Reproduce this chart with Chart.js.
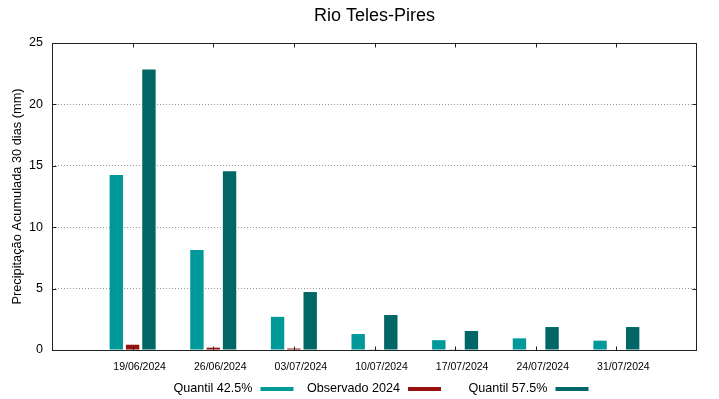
<!DOCTYPE html>
<html>
<head>
<meta charset="utf-8">
<script src="https://cdn.jsdelivr.net/npm/chart.js@4"></script>
<style>
html,body{margin:0;padding:0;background:#fff;}
#wrap{width:719px;height:399px;position:relative;}
</style>
</head>
<body>
<div id="wrap"><canvas id="c" width="719" height="399"></canvas></div>
<script>
const chartTitle = 'Rio Teles-Pires';
const yAxisTitle = 'Precipitação Acumulada 30 dias (mm)';
const categories = ['19/06/2024','26/06/2024','03/07/2024','10/07/2024','17/07/2024','24/07/2024','31/07/2024'];
const quantil425 = [14.25, 8.15, 2.7, 1.3, 0.8, 0.95, 0.76];
const observado2024 = [0.43, 0.19, 0.12, 0.05, 0.05, 0, 0];
const quantil575 = [22.85, 14.55, 4.72, 2.85, 1.55, 1.87, 1.87];
const seriesLabels = ['Quantil 42.5%', 'Observado 2024', 'Quantil 57.5%'];
const yTicks = [0, 5, 10, 15, 20, 25];

const FONT = "'Liberation Sans', Arial, sans-serif";
const pad = a => [null, ...a, null];
const labels = ['', ...categories, ''];

const frame = {
  id: 'frame',
  afterDatasetsDraw(chart) {
    const ctx = chart.ctx, a = chart.chartArea;
    const xs = chart.scales.x, ys = chart.scales.y;
    ctx.save();
    ctx.strokeStyle = '#222';
    ctx.lineWidth = 1;
    ctx.beginPath();
    const L = Math.round(a.left) + 0.5, R = Math.round(a.right) - 0.5;
    const T = Math.round(a.top) + 0.5, B = Math.round(a.bottom) + 0.5;
    xs.ticks.forEach((t, i) => {
      if (!labels[i]) return;
      const x = Math.round(xs.getPixelForTick(i)) + 0.5;
      ctx.moveTo(x, B); ctx.lineTo(x, B - 4);
      ctx.moveTo(x, T); ctx.lineTo(x, T + 4);
    });
    ys.ticks.forEach((t) => {
      const y = Math.round(ys.getPixelForValue(t.value)) + 0.5;
      ctx.moveTo(L, y); ctx.lineTo(L + 4, y);
      ctx.moveTo(R, y); ctx.lineTo(R - 4, y);
    });
    ctx.stroke();
    ctx.strokeRect(L, T, R - L, B - T);
    ctx.restore();
  },
  afterDraw(chart) {
    const ctx = chart.ctx, a = chart.chartArea;
    ctx.save();
    ctx.fillStyle = '#000';
    ctx.font = '18px ' + FONT;
    ctx.textAlign = 'center';
    ctx.textBaseline = 'middle';
    ctx.fillText(chartTitle, (a.left + a.right) / 2, 16);
    ctx.font = '12.6px ' + FONT;
    ctx.textAlign = 'right';
    const cx = (a.left + a.right) / 2;
    chart.data.datasets.forEach((ds, i) => {
      const sampleEnd = cx + 66.5 + (i - 1) * 147.5;
      const sampleStart = sampleEnd - 33;
      ctx.fillStyle = ds.backgroundColor;
      ctx.fillRect(sampleStart, 387, 33, 4);
      ctx.fillStyle = '#000';
      ctx.fillText(ds.label, sampleStart - 8, 388.5);
    });
    ctx.restore();
  }
};

new Chart(document.getElementById('c'), {
  type: 'bar',
  data: {
    labels: labels,
    datasets: [
      { label: seriesLabels[0], data: pad(quantil425), backgroundColor: '#009999' },
      { label: seriesLabels[1], data: pad(observado2024), backgroundColor: '#991010' },
      { label: seriesLabels[2], data: pad(quantil575), backgroundColor: '#006666' }
    ]
  },
  options: {
    responsive: false,
    animation: false,
    devicePixelRatio: 1,
    layout: { padding: { top: 43, right: 22, bottom: 0, left: 0 } },
    datasets: { bar: { categoryPercentage: 0.607, barPercentage: 0.82, borderWidth: 0 } },
    plugins: { legend: { display: false }, title: { display: false }, tooltip: { enabled: false } },
    scales: {
      x: {
        type: 'category',
        offset: false,
        grid: { display: false, drawTicks: false },
        border: { display: false },
        ticks: {
          autoSkip: false, maxRotation: 0, minRotation: 0,
          padding: 11, labelOffset: 7,
          color: '#000', font: { family: FONT, size: 10.5 }
        },
        afterFit(s) { s.height = 49; }
      },
      y: {
        min: 0, max: 25,
        grid: { color: '#999', lineWidth: 1, drawTicks: false },
        border: { display: false, dash: [1, 2] },
        ticks: {
          stepSize: 5, padding: 9,
          color: '#000', font: { family: FONT, size: 12.5 },
          callback: v => yTicks.includes(v) ? String(v) : ''
        },
        title: {
          display: true, text: yAxisTitle, color: '#000',
          font: { family: FONT, size: 12.8 },
          padding: { top: 10, bottom: 0 }
        },
        afterFit(s) { s.width = 52; }
      }
    }
  },
  plugins: [frame]
});
</script>
</body>
</html>
